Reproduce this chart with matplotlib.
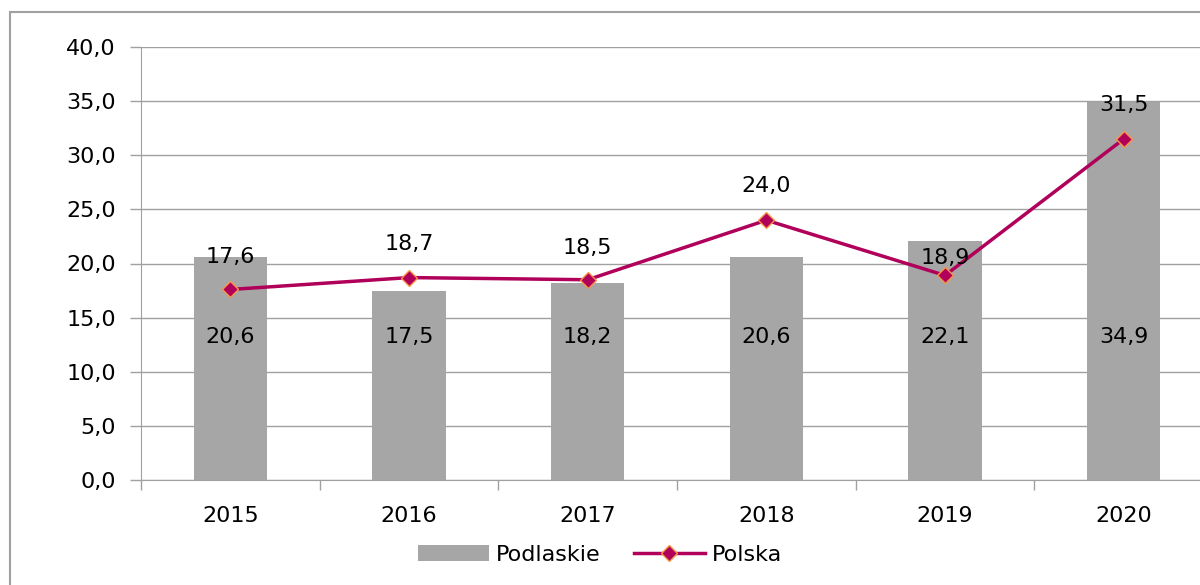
import numpy as np
import matplotlib.pyplot as plt
from matplotlib.patches import Rectangle
from matplotlib.ticker import FixedLocator, FuncFormatter

years = ['2015', '2016', '2017', '2018', '2019', '2020']
podlaskie = [20.6, 17.5, 18.2, 20.6, 22.1, 34.9]
polska = [17.6, 18.7, 18.5, 24.0, 18.9, 31.5]

plt.rcParams['font.family'] = ['DejaVu Sans']
FS = 16

fig = plt.figure(figsize=(12, 5.85), dpi=100)
# outer chart border (partly cut off on the right like the reference)
fig.patches.append(Rectangle((10 / 1200, -0.1), 1.5, 1.1 - 12 / 585,
                             transform=fig.transFigure, fill=False,
                             edgecolor='#a0a0a0', linewidth=1.5))
ax = fig.add_axes([141 / 1200, 1 - 480 / 585, 1072 / 1200, 433 / 585])

x = np.arange(len(years))
bar_col = '#a6a6a6'
line_col = '#b0005a'
bars = ax.bar(x, podlaskie, width=0.41, color=bar_col, zorder=2, label='Podlaskie')
line, = ax.plot(x, polska, color=line_col, linewidth=2.5, marker='D', markersize=8,
                markerfacecolor=line_col, markeredgecolor='#f79646', markeredgewidth=1,
                zorder=3, label='Polska')

ax.set_xlim(-0.5, len(years) - 0.5)
ax.set_ylim(0, 40)
ax.set_yticks(np.arange(0, 41, 5))
ax.yaxis.set_major_formatter(FuncFormatter(lambda v, p: f'{v:.1f}'.replace('.', ',')))
ax.set_xticks(x)
ax.set_xticklabels(years)
ax.xaxis.set_minor_locator(FixedLocator(np.arange(-0.5, len(years), 1)))
ax.tick_params(axis='x', which='major', length=0, pad=19, labelsize=FS)
ax.tick_params(axis='x', which='minor', length=7, color='#a0a0a0', width=1)
ax.tick_params(axis='y', length=8, color='#a0a0a0', width=1, pad=10, labelsize=FS)

ax.grid(axis='y', color='#a0a0a0', linewidth=1, zorder=0)
for s in ['top', 'right']:
    ax.spines[s].set_visible(False)
for s in ['left', 'bottom']:
    ax.spines[s].set_color('#a0a0a0')

for xi, v in zip(x, podlaskie):
    ax.text(xi, 13.2, f'{v:.1f}'.replace('.', ','), ha='center', va='center',
            fontsize=FS, zorder=4)
offsets = [32, 34, 32, 34, 17, 34]
for xi, v, off in zip(x, polska, offsets):
    ax.annotate(f'{v:.1f}'.replace('.', ','), (xi, v), xytext=(0, off),
                textcoords='offset pixels', ha='center', va='center',
                fontsize=FS, zorder=4)

fig.legend(handles=[bars, line], labels=['Podlaskie', 'Polska'], loc='center',
           bbox_to_anchor=(0.5, 1 - 555 / 585), ncol=2, frameon=False,
           fontsize=FS, handlelength=3.2, columnspacing=1.5, handletextpad=0.3)

fig.savefig('out.png', dpi=100)
